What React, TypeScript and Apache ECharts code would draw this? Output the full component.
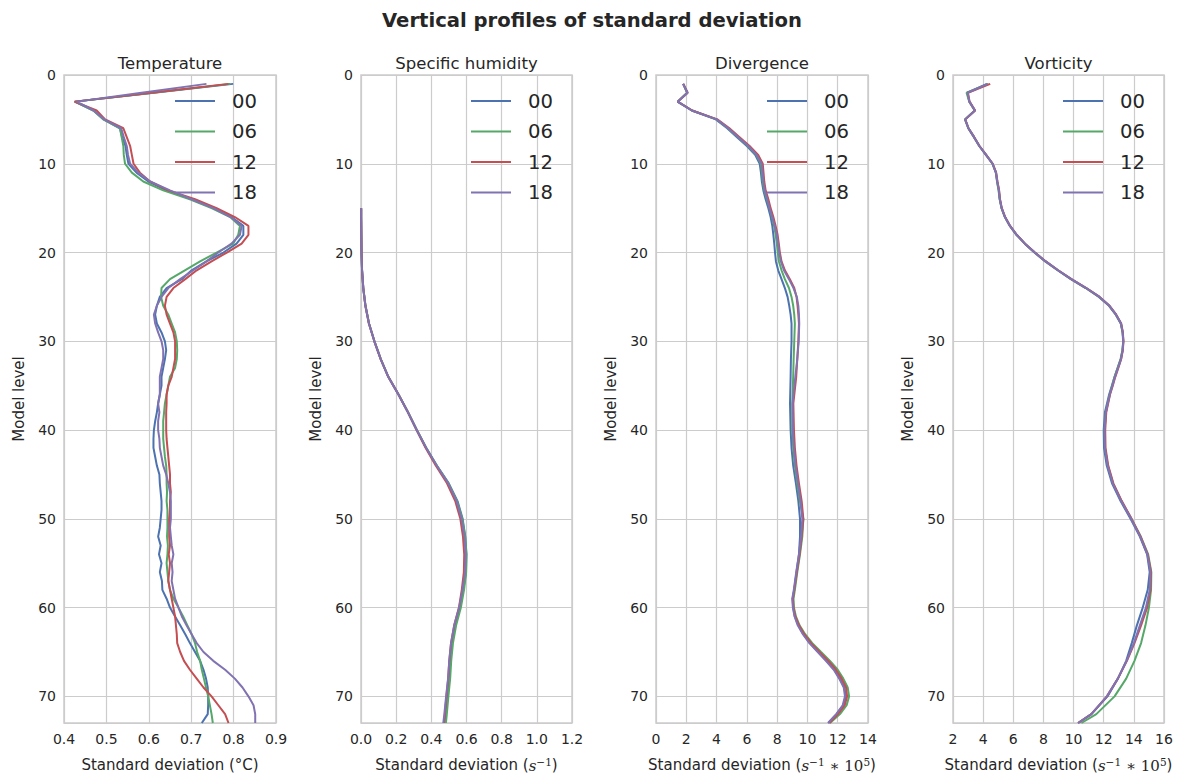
import React, { useEffect, useRef } from "react";
import * as echarts from "echarts";

// ---------- data ----------
const SERIES_NAMES = ["00", "06", "12", "18"];
const COLORS = ["#4C72B0", "#55A868", "#C44E52", "#8172B2"];

const PANEL_TITLES = ["Temperature", "Specific humidity", "Divergence", "Vorticity"];
const SUPTITLE = "Vertical profiles of standard deviation";
const Y_TICKS = [0, 10, 20, 30, 40, 50, 60, 70];

// Temperature (levels 1..73)
const T_LEVELS = [
  1, 2, 3, 4, 5, 6, 7, 8, 9, 10, 11, 12, 13, 14, 15, 16, 17, 18, 19, 20,
  21, 22, 23, 24, 25, 26, 27, 28, 29, 30, 31, 32, 33, 34, 35, 36, 37, 38, 39, 40,
  41, 42, 43, 44, 45, 46, 47, 48, 49, 50, 51, 52, 53, 54, 55, 56, 57, 58, 59, 60,
  61, 62, 63, 64, 65, 66, 67, 68, 69, 70, 71, 72, 73,
];
const T00 = [
  0.799, 0.612, 0.425, 0.470, 0.493, 0.532, 0.537, 0.545, 0.548, 0.552,
  0.571, 0.599, 0.642, 0.701, 0.752, 0.795, 0.823, 0.823, 0.807, 0.776,
  0.736, 0.701, 0.678, 0.642, 0.626, 0.619, 0.615, 0.619, 0.630, 0.638,
  0.641, 0.638, 0.634, 0.630, 0.630, 0.626, 0.622, 0.619, 0.615, 0.612,
  0.611, 0.611, 0.615, 0.619, 0.625, 0.626, 0.628, 0.630, 0.630, 0.628,
  0.626, 0.622, 0.628, 0.624, 0.630, 0.626, 0.631, 0.632, 0.642, 0.650,
  0.662, 0.674, 0.686, 0.697, 0.709, 0.721, 0.729, 0.735, 0.739, 0.740,
  0.740, 0.739, 0.725,
];
const T06 = [
  0.792, 0.609, 0.426, 0.469, 0.493, 0.532, 0.536, 0.540, 0.541, 0.544,
  0.560, 0.587, 0.634, 0.697, 0.748, 0.792, 0.815, 0.811, 0.799, 0.760,
  0.721, 0.685, 0.650, 0.630, 0.629, 0.634, 0.646, 0.654, 0.662, 0.666,
  0.667, 0.666, 0.662, 0.650, 0.646, 0.642, 0.638, 0.636, 0.634, 0.634,
  0.634, 0.636, 0.638, 0.641, 0.642, 0.642, 0.643, 0.642, 0.644, 0.644,
  0.644, 0.643, 0.645, 0.644, 0.642, 0.644, 0.646, 0.650, 0.658, 0.670,
  0.681, 0.691, 0.701, 0.709, 0.714, 0.721, 0.725, 0.730, 0.735, 0.740,
  0.744, 0.748, 0.751,
];
const T12 = [
  0.788, 0.607, 0.425, 0.477, 0.497, 0.540, 0.548, 0.556, 0.560, 0.564,
  0.579, 0.603, 0.646, 0.709, 0.760, 0.803, 0.835, 0.835, 0.819, 0.784,
  0.748, 0.713, 0.686, 0.658, 0.642, 0.638, 0.642, 0.650, 0.658, 0.662,
  0.662, 0.662, 0.658, 0.654, 0.646, 0.642, 0.642, 0.641, 0.641, 0.641,
  0.642, 0.644, 0.646, 0.648, 0.650, 0.650, 0.652, 0.650, 0.650, 0.648,
  0.648, 0.648, 0.650, 0.647, 0.650, 0.648, 0.646, 0.650, 0.654, 0.658,
  0.662, 0.664, 0.666, 0.667, 0.674, 0.683, 0.697, 0.713, 0.729, 0.748,
  0.764, 0.780, 0.788,
];
const T18 = [
  0.736, 0.583, 0.430, 0.470, 0.495, 0.535, 0.541, 0.548, 0.551, 0.556,
  0.575, 0.603, 0.650, 0.701, 0.752, 0.793, 0.819, 0.815, 0.795, 0.764,
  0.736, 0.705, 0.674, 0.646, 0.630, 0.619, 0.612, 0.615, 0.622, 0.630,
  0.634, 0.634, 0.630, 0.626, 0.626, 0.626, 0.622, 0.625, 0.622, 0.622,
  0.625, 0.626, 0.630, 0.634, 0.641, 0.646, 0.650, 0.652, 0.652, 0.652,
  0.650, 0.652, 0.654, 0.658, 0.654, 0.656, 0.654, 0.658, 0.662, 0.670,
  0.678, 0.689, 0.701, 0.713, 0.729, 0.752, 0.780, 0.803, 0.821, 0.835,
  0.847, 0.851, 0.851,
];

// Specific humidity
const Q_LEVELS = [15, 16, 18, 20, 22, 24, 26, 28, 30, 32, 34, 36, 38, 40, 42, 44, 46, 48, 50, 52, 54, 56, 58, 60, 62, 64, 66, 68, 70, 72, 73];
const Q00 = [0.001, 0.001, 0.002, 0.003, 0.006, 0.013, 0.025, 0.045, 0.076, 0.112, 0.155, 0.213, 0.267, 0.317, 0.370, 0.431, 0.499, 0.549, 0.578, 0.593, 0.600, 0.597, 0.582, 0.561, 0.533, 0.515, 0.505, 0.499, 0.489, 0.480, 0.475];
const Q06 = [0.001, 0.001, 0.002, 0.003, 0.006, 0.013, 0.026, 0.046, 0.077, 0.113, 0.156, 0.214, 0.268, 0.318, 0.371, 0.431, 0.498, 0.546, 0.576, 0.592, 0.599, 0.598, 0.586, 0.568, 0.541, 0.523, 0.513, 0.507, 0.497, 0.488, 0.483];
const Q12 = [0.001, 0.001, 0.002, 0.003, 0.006, 0.013, 0.025, 0.045, 0.076, 0.112, 0.155, 0.213, 0.267, 0.316, 0.367, 0.425, 0.489, 0.536, 0.565, 0.580, 0.587, 0.585, 0.573, 0.557, 0.530, 0.512, 0.502, 0.496, 0.486, 0.477, 0.472];
const Q18 = [0.001, 0.001, 0.002, 0.003, 0.006, 0.013, 0.025, 0.045, 0.076, 0.112, 0.155, 0.213, 0.267, 0.317, 0.370, 0.430, 0.496, 0.543, 0.572, 0.588, 0.595, 0.592, 0.577, 0.558, 0.530, 0.512, 0.502, 0.495, 0.484, 0.474, 0.468];

// Divergence
const D_LEVELS = [
  1, 2, 3, 4, 5, 6, 7, 8, 9, 10, 11, 12, 13, 14, 15, 16, 17, 18, 19, 20,
  21, 22, 23, 24, 25, 26, 27, 28,
  30, 32, 34, 37, 40, 42, 44, 46, 48, 50, 52, 54, 56, 58,
  59, 60, 61, 62, 63, 64, 65, 66, 67, 68, 69, 70, 71, 72, 73,
];
const D00 = [
  1.80, 2.05, 1.43, 2.36, 3.95, 4.70, 5.35, 6.00, 6.55, 6.85,
  6.93, 6.99, 7.09, 7.24, 7.42, 7.57, 7.68, 7.75, 7.81, 7.86,
  7.92, 8.07, 8.29, 8.51, 8.69, 8.80, 8.89, 8.95,
  8.95, 8.91, 8.89, 8.85, 8.89, 8.95, 9.06, 9.24, 9.40, 9.51, 9.51, 9.44, 9.28, 9.13,
  9.02, 9.06, 9.17, 9.40, 9.73, 10.17, 10.72, 11.27, 11.78, 12.15, 12.44, 12.53, 12.37, 11.93, 11.38,
];
const D06 = [
  1.80, 2.07, 1.43, 2.38, 4.00, 4.76, 5.42, 6.06, 6.62, 6.93,
  7.00, 7.05, 7.15, 7.32, 7.50, 7.66, 7.80, 7.90, 7.98, 8.04,
  8.12, 8.29, 8.51, 8.78, 8.95, 9.06, 9.13, 9.17,
  9.13, 9.09, 9.06, 9.00, 9.00, 9.06, 9.17, 9.33, 9.50, 9.73, 9.66, 9.51, 9.33, 9.17,
  9.08, 9.11, 9.24, 9.48, 9.85, 10.32, 10.90, 11.49, 12.00, 12.37, 12.66, 12.75, 12.59, 12.15, 11.49,
];
const D12 = [
  1.80, 2.09, 1.43, 2.40, 4.05, 4.85, 5.52, 6.18, 6.75, 7.05,
  7.10, 7.15, 7.24, 7.42, 7.57, 7.75, 7.90, 8.03, 8.11, 8.18,
  8.29, 8.51, 8.84, 9.13, 9.28, 9.35, 9.40, 9.44,
  9.40, 9.33, 9.26, 9.07, 9.11, 9.17, 9.28, 9.44, 9.62, 9.73, 9.62, 9.48, 9.30, 9.13,
  9.04, 9.08, 9.20, 9.44, 9.79, 10.24, 10.80, 11.38, 11.88, 12.26, 12.55, 12.62, 12.46, 12.02, 11.45,
];
const D18 = [
  1.78, 2.09, 1.43, 2.36, 4.01, 4.78, 5.44, 6.10, 6.65, 6.98,
  7.04, 7.10, 7.18, 7.35, 7.50, 7.68, 7.84, 7.98, 8.06, 8.14,
  8.25, 8.45, 8.78, 9.08, 9.30, 9.40, 9.44, 9.46,
  9.42, 9.33, 9.20, 9.02, 9.04, 9.11, 9.22, 9.38, 9.55, 9.66, 9.58, 9.44, 9.26, 9.10,
  9.00, 9.04, 9.15, 9.36, 9.70, 10.13, 10.68, 11.22, 11.74, 12.10, 12.40, 12.48, 12.33, 11.90, 11.36,
];

// Vorticity
const V_LEVELS = [
  1, 2, 3, 4, 5, 6, 7, 8, 9, 10, 11, 12, 13, 14, 15, 16, 17, 18, 19, 20,
  21, 22, 23, 24, 25, 26, 27, 28, 29, 30, 31, 32, 33, 34, 35, 36,
  38, 40, 42, 44, 46, 48, 50, 52, 54, 56, 58, 60, 62, 64, 66, 68, 70, 72,
  73,
];
const V00 = [
  4.25, 2.95, 3.08, 3.45, 2.80, 3.01, 3.39, 3.74, 4.18, 4.62,
  4.84, 4.93, 5.04, 5.10, 5.22, 5.44, 5.77, 6.21, 6.76, 7.40,
  8.12, 8.94, 9.82, 10.80, 11.68, 12.35, 12.80, 13.13, 13.25, 13.29,
  13.25, 13.13, 12.93, 12.72, 12.54, 12.36,
  12.08, 12.00, 12.02, 12.20, 12.55, 13.12, 13.78, 14.40, 14.88, 15.05, 14.92, 14.59, 14.20, 13.86, 13.49, 12.94, 12.25, 11.18,
  10.30,
];
const V06 = [
  4.35, 2.90, 3.08, 3.44, 2.80, 3.02, 3.40, 3.75, 4.20, 4.62,
  4.86, 4.92, 5.02, 5.10, 5.22, 5.45, 5.78, 6.22, 6.77, 7.42,
  8.14, 8.96, 9.84, 10.82, 11.70, 12.37, 12.81, 13.14, 13.26, 13.30,
  13.24, 13.12, 12.92, 12.72, 12.56, 12.40,
  12.14, 12.06, 12.09, 12.27, 12.62, 13.18, 13.84, 14.46, 14.95, 15.16, 15.14, 15.00, 14.77, 14.48, 14.04, 13.49, 12.72, 11.51,
  10.52,
];
const V12 = [
  4.47, 2.99, 3.10, 3.47, 2.81, 3.03, 3.41, 3.76, 4.20, 4.64,
  4.86, 4.95, 5.06, 5.12, 5.24, 5.46, 5.79, 6.23, 6.78, 7.44,
  8.16, 8.98, 9.86, 10.85, 11.73, 12.39, 12.83, 13.16, 13.27, 13.31,
  13.27, 13.16, 12.97, 12.77, 12.60, 12.42,
  12.17, 12.10, 12.12, 12.30, 12.64, 13.20, 13.85, 14.45, 14.92, 15.14, 15.10, 14.88, 14.48, 14.04, 13.54, 12.94, 12.21, 11.18,
  10.30,
];
const V18 = [
  4.30, 2.97, 3.09, 3.46, 2.81, 3.03, 3.40, 3.75, 4.20, 4.63,
  4.85, 4.94, 5.05, 5.11, 5.23, 5.45, 5.78, 6.22, 6.77, 7.43,
  8.15, 8.97, 9.85, 10.84, 11.72, 12.38, 12.82, 13.15, 13.26, 13.30,
  13.26, 13.15, 12.95, 12.75, 12.58, 12.40,
  12.14, 12.06, 12.08, 12.26, 12.60, 13.16, 13.82, 14.42, 14.90, 15.10, 15.05, 14.80, 14.40, 14.00, 13.52, 12.94, 12.21, 11.18,
  10.30,
];

// ---------- layout / style ----------
const FONT = "'DejaVu Sans', sans-serif";
const MATH_FONT = "'DejaVu Serif', serif";
const TEXT = "#262626";
const GRID_C = "#cccccc";

const PANELS = [
  { levels: T_LEVELS, values: [T00, T06, T12, T18], xMin: 0.4, xMax: 0.9, xInterval: 0.1, decimals: 1,
    xName: "Standard deviation (°C)", left: 64, width: 212 },
  { levels: Q_LEVELS, values: [Q00, Q06, Q12, Q18], xMin: 0, xMax: 1.2, xInterval: 0.2, decimals: 1,
    xName: "Standard deviation ({m|s}{sup|−1})", left: 361, width: 211 },
  { levels: D_LEVELS, values: [D00, D06, D12, D18], xMin: 0, xMax: 14, xInterval: 2, decimals: 0,
    xName: "Standard deviation ({m|s}{sup|−1}{r| ∗ 10}{sup|5})", left: 656, width: 212 },
  { levels: V_LEVELS, values: [V00, V06, V12, V18], xMin: 2, xMax: 16, xInterval: 2, decimals: 0,
    xName: "Standard deviation ({m|s}{sup|−1}{r| ∗ 10}{sup|5})", left: 953, width: 211 },
];
const TOP = 75;
const HEIGHT = 648;

const RICH = {
  m: { fontFamily: MATH_FONT, fontStyle: "italic", fontSize: 15, color: TEXT, verticalAlign: "bottom", lineHeight: 17 },
  r: { fontFamily: MATH_FONT, fontSize: 15, color: TEXT, verticalAlign: "bottom", lineHeight: 17 },
  sup: { fontFamily: MATH_FONT, fontSize: 10.5, color: TEXT, verticalAlign: "top", lineHeight: 17 },
};

function buildOption() {
  const grid = PANELS.map((p) => ({
    left: p.left, top: TOP, width: p.width, height: HEIGHT,
    containLabel: false, outerBoundsMode: "none",
    show: true, borderColor: GRID_C, borderWidth: 1.5, backgroundColor: "#ffffff",
  }));
  const xAxis = PANELS.map((p, i) => ({
    gridIndex: i, type: "value", min: p.xMin, max: p.xMax, interval: p.xInterval,
    axisLine: { show: false }, axisTick: { show: false },
    splitLine: { show: true, lineStyle: { color: GRID_C, width: 1.2 } },
    axisLabel: {
      fontSize: 14, color: TEXT, fontFamily: FONT, margin: 9,
      formatter: (v: number) => v.toFixed(p.decimals),
    },
    name: p.xName, nameLocation: "middle", nameGap: 33,
    nameTextStyle: { fontSize: 15, color: TEXT, fontFamily: FONT, rich: RICH, lineHeight: 17 },
  }));
  const yAxis = PANELS.map((p, i) => ({
    gridIndex: i, type: "value", inverse: true, min: 0, max: 73, interval: 10,
    axisLine: { show: false }, axisTick: { show: false },
    splitLine: { show: true, lineStyle: { color: GRID_C, width: 1.2 } },
    axisLabel: {
      fontSize: 14, color: TEXT, fontFamily: FONT, margin: 8, showMaxLabel: false,
      formatter: (v: number) => (Y_TICKS.indexOf(v) >= 0 ? String(v) : ""),
    },
    name: "Model level", nameLocation: "middle", nameGap: 38,
    nameTextStyle: { fontSize: 15, color: TEXT, fontFamily: FONT },
  }));
  const series: any[] = [];
  PANELS.forEach((p, i) => {
    p.values.forEach((vals, j) => {
      series.push({
        type: "line", name: SERIES_NAMES[j], xAxisIndex: i, yAxisIndex: i,
        data: p.levels.map((lv, k) => [vals[k], lv]),
        showSymbol: false, symbol: "none", smooth: false,
        color: COLORS[j],
        lineStyle: { color: COLORS[j], width: 2 },
        itemStyle: { color: COLORS[j] },
        emphasis: { disabled: true },
      });
    });
  });
  const legend = PANELS.map((p) => ({
    data: SERIES_NAMES, orient: "vertical", left: p.left + p.width - 101, top: 91, padding: 0,
    itemWidth: 40, itemHeight: 20, itemGap: 10.5, selectedMode: false,
    icon: "path://M0,0H40V2.1H0Z",
    itemStyle: { borderWidth: 0 },
    textStyle: { fontSize: 19.6, color: TEXT, fontFamily: FONT, padding: [0, 0, 0, 12], lineHeight: 20 },
  }));
  const graphic = [
    { type: "text", x: 592, y: 20, style: { text: SUPTITLE, font: `bold 19.6px ${FONT}`, fill: TEXT, align: "center", verticalAlign: "middle" } },
    ...PANELS.map((p, i) => ({
      type: "text", x: p.left + p.width / 2, y: 63,
      style: { text: PANEL_TITLES[i], font: `16.5px ${FONT}`, fill: TEXT, align: "center", verticalAlign: "middle" },
    })),
  ];
  return {
    animation: false,
    backgroundColor: "#ffffff",
    textStyle: { fontFamily: FONT },
    grid, xAxis, yAxis, series, legend, graphic,
  };
}

export default function App() {
  const ref = useRef<HTMLDivElement>(null);
  useEffect(() => {
    document.body.style.margin = "0";
    if (!ref.current) return;
    const chart = echarts.init(ref.current, null, { renderer: "svg" });
    chart.setOption(buildOption() as any);
    return () => chart.dispose();
  }, []);
  return <div ref={ref} style={{ width: 1177, height: 776 }} />;
}
